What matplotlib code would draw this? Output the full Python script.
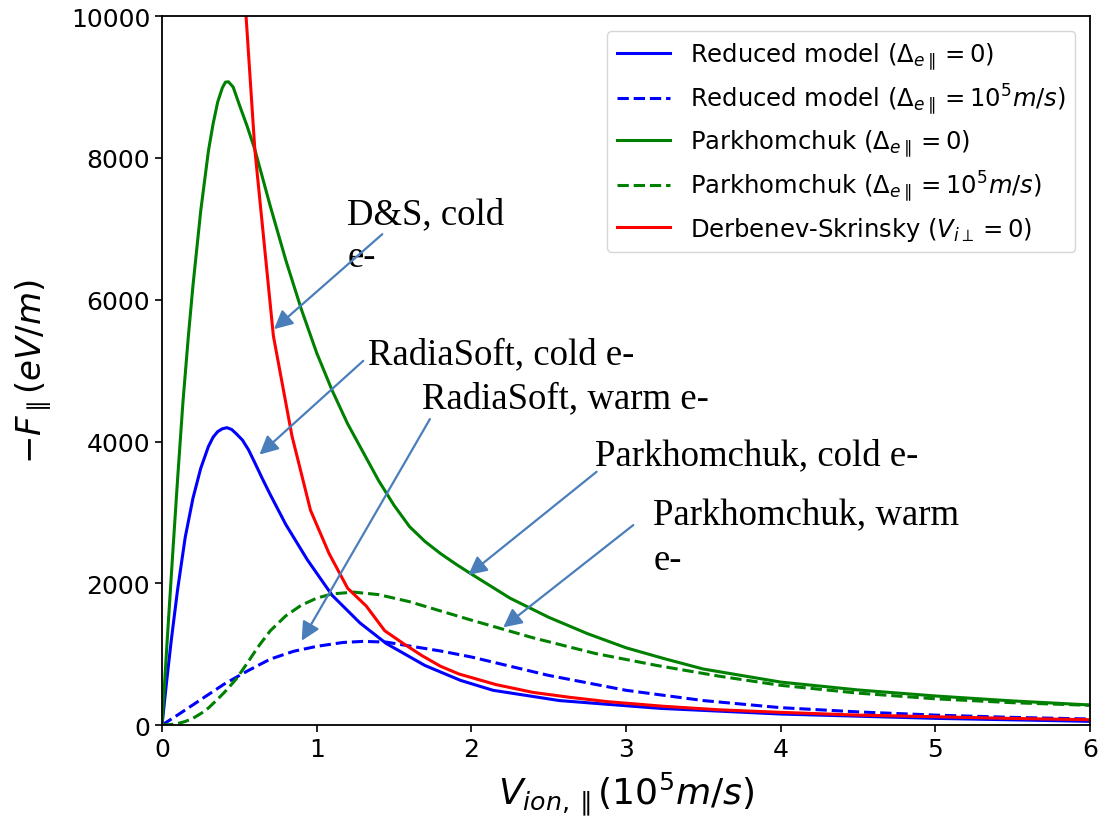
import matplotlib
matplotlib.use('agg')
import matplotlib.pyplot as plt
import numpy as np

# parallel ion velocity, units of 1e5 m/s, and -F_par in eV/m
v_red_cold = [0, 0.03, 0.06, 0.1, 0.15, 0.2, 0.25, 0.3, 0.33, 0.36, 0.39, 0.42, 0.45, 0.48,
              0.52, 0.56, 0.6, 0.65, 0.7, 0.8, 0.94, 1.1, 1.28, 1.45, 1.7, 1.93, 2.14, 2.57,
              3.22, 4.0, 5.0, 6.0]
f_red_cold = [0, 620, 1200, 1900, 2650, 3200, 3620, 3930, 4060, 4140, 4180, 4195, 4170, 4110,
              4020, 3880, 3700, 3470, 3250, 2830, 2330, 1830, 1440, 1150, 840, 630, 490, 345,
              235, 155, 94, 52]

v_red_warm = [0, 0.1, 0.2, 0.3, 0.4, 0.55, 0.7, 0.85, 1.0, 1.17, 1.3, 1.45, 1.6, 1.8, 2.0,
              2.25, 2.5, 3.0, 3.5, 4.0, 4.5, 5.0, 5.5, 6.0]
f_red_warm = [0, 140, 285, 430, 575, 760, 930, 1040, 1110, 1165, 1180, 1170, 1115, 1045, 960,
              830, 700, 490, 345, 245, 185, 140, 108, 85]

v_park_cold = [0, 0.035, 0.07, 0.1, 0.135, 0.17, 0.2, 0.25, 0.3, 0.33, 0.36, 0.39, 0.41,
               0.43, 0.46, 0.5, 0.55, 0.6, 0.7, 0.8, 0.9, 1.0, 1.1, 1.2, 1.3, 1.4, 1.5, 1.6,
               1.7, 1.8, 1.9, 2.0, 2.25, 2.5, 2.75, 3.0, 3.25, 3.5, 4.0, 4.5, 5.0, 5.5, 6.0]
f_park_cold = [0, 1250, 2450, 3450, 4550, 5480, 6200, 7250, 8100, 8480, 8790, 8990, 9070,
               9075, 9000, 8750, 8450, 8120, 7320, 6560, 5870, 5250, 4720, 4250, 3850, 3450,
               3100, 2800, 2590, 2420, 2270, 2130, 1790, 1520, 1290, 1090, 935, 790, 606, 495,
               410, 340, 283]

v_park_warm = [0, 0.05, 0.1, 0.15, 0.2, 0.25, 0.3, 0.36, 0.42, 0.48, 0.55, 0.62, 0.7, 0.8,
               0.9, 1.0, 1.1, 1.24, 1.4, 1.6, 1.8, 2.0, 2.4, 2.8, 3.2, 3.6, 4.0, 4.5, 5.0,
               5.5, 6.0]
f_park_warm = [0, 5, 20, 50, 95, 160, 240, 365, 500, 650, 870, 1100, 1330, 1540,
               1690, 1790, 1850, 1875, 1840, 1740, 1610, 1480, 1230, 1010, 840, 690, 560, 450,
               370, 315, 278]

v_ds = [0.48, 0.6, 0.72, 0.84, 0.96, 1.08, 1.2, 1.32, 1.44, 1.56, 1.68, 1.8, 1.92, 2.16, 2.4,
        2.64, 2.88, 3.24, 3.6, 4.0, 4.5, 5.0, 5.5, 6.0]
f_ds = [12100, 8120, 5490, 4080, 3030, 2420, 1930, 1680, 1330, 1150, 980, 830, 720, 570, 460,
        390, 330, 265, 215, 179, 140, 117, 93, 75]

labels = [r'Reduced model ($\Delta_{e\parallel}=0$)',
          r'Reduced model ($\Delta_{e\parallel}=10^5m/s$)',
          r'Parkhomchuk ($\Delta_{e\parallel}=0$)',
          r'Parkhomchuk ($\Delta_{e\parallel}=10^5m/s$)',
          r'Derbenev-Skrinsky ($V_{i\perp}=0$)']

# callouts: text lines (x, y), arrow tail, arrow tip
notes = [
    (['D&S, cold', 'e-'], [(1.196, 7080), (1.202, 6478)], (1.424, 6925), (0.724, 5585)),
    (['RadiaSoft, cold e-'], [(1.334, 5106)], (1.301, 5138), (0.63, 3815)),
    (['RadiaSoft, warm e-'], [(1.679, 4489)], (1.732, 4316), (0.903, 1189)),
    (['Parkhomchuk, cold e-'], [(2.799, 3681)], (2.810, 3573), (1.980, 2116)),
    (['Parkhomchuk, warm', 'e-'], [(3.176, 2835), (3.176, 2200)], (3.047, 2821), (2.206, 1378)),
]

fig = plt.figure(figsize=(11, 8.2), dpi=100)
ax = fig.add_axes([0.1473, 0.1146, 0.8436, 0.8644])

lw = 2.2
ax.plot(v_red_cold, f_red_cold, 'b-', lw=lw, label=labels[0])
ax.plot(v_red_warm, f_red_warm, 'b--', lw=lw, label=labels[1])
ax.plot(v_park_cold, f_park_cold, 'g-', lw=lw, label=labels[2])
ax.plot(v_park_warm, f_park_warm, 'g--', lw=lw, label=labels[3])
ax.plot(v_ds, f_ds, 'r-', lw=lw, label=labels[4])

ax.set_xlim(0, 6)
ax.set_ylim(0, 10000)
ax.set_xticks(range(7))
ax.set_yticks(range(0, 10001, 2000))
ax.tick_params(labelsize=18, width=1.2, length=5)
for s in ax.spines.values():
    s.set_linewidth(1.3)

ax.set_xlabel(r'$V_{ion,\parallel}(10^5m/s)$', fontsize=26, labelpad=6)
ax.set_ylabel(r'$-F_{\parallel}(eV/m)$', fontsize=24.5, labelpad=12)

ax.legend(loc='upper right', fontsize=17.5, handlelength=2.2, labelspacing=0.42,
          borderaxespad=0.6)

arrow_col = '#4a7ebb'
for lines, pos, tail, tip in notes:
    for txt, (tx, ty) in zip(lines, pos):
        ax.text(tx, ty, txt, fontsize=26.5, family=['Liberation Serif'], ha='left', va='baseline')
    ax.annotate('', xy=tip, xytext=tail,
                arrowprops=dict(arrowstyle='-|>', color=arrow_col, lw=1.6,
                                mutation_scale=28, shrinkA=0, shrinkB=0))

fig.savefig('out.png', dpi=100)
